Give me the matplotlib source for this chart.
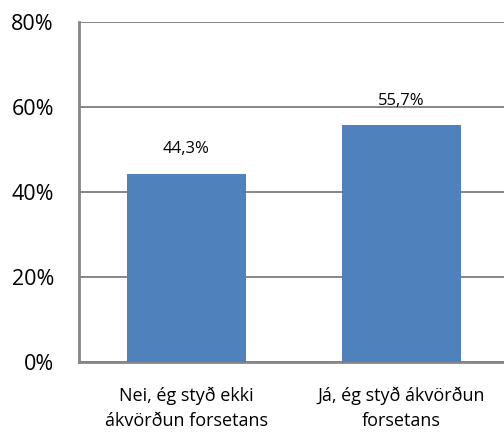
import matplotlib.pyplot as plt
from matplotlib.ticker import FuncFormatter

# Data
categories = ["Nei, ég styð ekki\nákvörðun forsetans", "Já, ég styð ákvörðun\nforsetans"]
values = [44.3, 55.7]
value_labels = ["44,3%", "55,7%"]
y_ticks = [0, 20, 40, 60, 80]

plt.rcParams['font.family'] = ['Open Sans', 'DejaVu Sans']

fig = plt.figure(figsize=(5.04, 4.33), dpi=100)
# plot area: left 79px, right ~509px (runs past the image edge), top 22px, bottom 362px
ax = fig.add_axes([79 / 504, 1 - 362 / 433, (509 - 79) / 504, (362 - 22) / 433])

x = list(range(len(categories)))
bars = ax.bar(x, values, width=0.558, color='#4F81BD', zorder=3)

for bar, lab in zip(bars, value_labels):
    ax.annotate(lab, (bar.get_x() + bar.get_width() / 2, bar.get_height()),
                xytext=(0, 17.5), textcoords='offset points',
                ha='center', va='center', fontsize=12)

ax.set_xlim(-0.5, 1.5)
ax.set_ylim(0, 80)
ax.set_yticks(y_ticks)
ax.yaxis.set_major_formatter(FuncFormatter(lambda v, p: f"{v:.0f}%"))
ax.set_xticks(x)
ax.set_xticklabels(categories, fontsize=13, linespacing=1.5)
ax.tick_params(axis='y', labelsize=15.5, length=0, pad=18)
ax.tick_params(axis='x', length=0, pad=18)

ax.grid(axis='y', color='#868686', linewidth=1.4, zorder=0)
for s in ['top', 'right']:
    ax.spines[s].set_visible(False)
for s in ['left', 'bottom']:
    ax.spines[s].set_color('#868686')
    ax.spines[s].set_linewidth(2)

plt.savefig("out.png", dpi=100)
